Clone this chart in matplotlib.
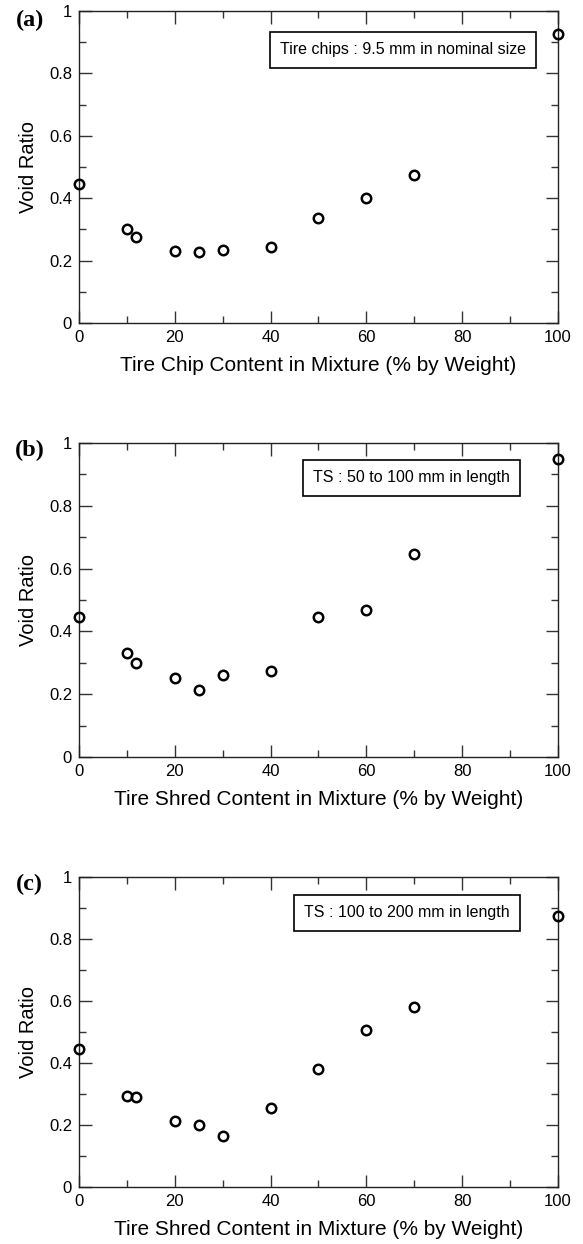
import matplotlib
matplotlib.use("Agg")
import matplotlib.pyplot as plt
from matplotlib.ticker import MultipleLocator

# Teneur en pneu (% en poids)
content = [0, 10, 12, 20, 25, 30, 40, 50, 60, 70, 100]

# Indice des vides pour chaque melange
void_a = [0.445, 0.300, 0.275, 0.230, 0.228, 0.235, 0.245, 0.335, 0.402, 0.475, 0.925]
void_b = [0.445, 0.330, 0.300, 0.250, 0.213, 0.262, 0.275, 0.445, 0.468, 0.645, 0.950]
void_c = [0.445, 0.293, 0.290, 0.212, 0.200, 0.163, 0.255, 0.380, 0.508, 0.580, 0.873]

panel_labels = ["(a)", "(b)", "(c)"]
box_texts = ["Tire chips : 9.5 mm in nominal size",
             "TS : 50 to 100 mm in length",
             "TS : 100 to 200 mm in length"]
x_labels = ["Tire Chip Content in Mixture (% by Weight)",
            "Tire Shred Content in Mixture (% by Weight)",
            "Tire Shred Content in Mixture (% by Weight)"]
y_label = "Void Ratio"
x_ticks = [0, 20, 40, 60, 80, 100]
x_ticklabels = ["0", "20", "40", "60", "80", "100"]
y_ticks = [0, 0.2, 0.4, 0.6, 0.8, 1.0]
y_ticklabels = ["0", "0.2", "0.4", "0.6", "0.8", "1"]

plt.rcParams['font.family'] = ['Liberation Sans', 'DejaVu Sans']

fig = plt.figure(figsize=(5.83, 12.44), dpi=100)

# positions des axes (fraction de la figure)
positions = [[0.1355, 0.7404, 0.8216, 0.2508],
             [0.1355, 0.3915, 0.8216, 0.2524],
             [0.1355, 0.0458, 0.8216, 0.2492]]
box_pos = [(0.933, 0.875), (0.900, 0.889), (0.900, 0.885)]
label_y = [0.968, 0.975, 0.975]

for i, values in enumerate([void_a, void_b, void_c]):
    ax = fig.add_axes(positions[i])
    ax.plot(content, values, linestyle='none', marker='o', markersize=6.8,
            markerfacecolor='none', markeredgecolor='black', markeredgewidth=1.8,
            clip_on=False, zorder=5)
    ax.set_xlim(0, 100)
    ax.set_ylim(0, 1)
    ax.set_xticks(x_ticks)
    ax.set_xticklabels(x_ticklabels)
    ax.set_yticks(y_ticks)
    ax.set_yticklabels(y_ticklabels)
    ax.xaxis.set_minor_locator(MultipleLocator(10))
    ax.yaxis.set_minor_locator(MultipleLocator(0.1))
    ax.tick_params(which='both', direction='in', top=True, right=True,
                   color='#333333', width=1.0, labelsize=12, pad=5)
    ax.tick_params(which='major', length=9)
    ax.tick_params(which='minor', length=5)
    for s in ax.spines.values():
        s.set_linewidth(1.0)
        s.set_color('#222222')
    ax.set_xlabel(x_labels[i], fontsize=15, labelpad=8)
    ax.set_ylabel(y_label, fontsize=14.5, labelpad=8)
    ax.text(box_pos[i][0], box_pos[i][1], box_texts[i],
            transform=ax.transAxes, ha='right', va='center', fontsize=11.5,
            bbox=dict(boxstyle='square,pad=0.65', facecolor='white',
                      edgecolor='black', linewidth=1.2))
    ax.text(-0.103, label_y[i], panel_labels[i], transform=ax.transAxes,
            ha='center', va='center', fontsize=17.5, fontweight='bold',
            family='Liberation Serif')

fig.savefig("out.png", dpi=100)
